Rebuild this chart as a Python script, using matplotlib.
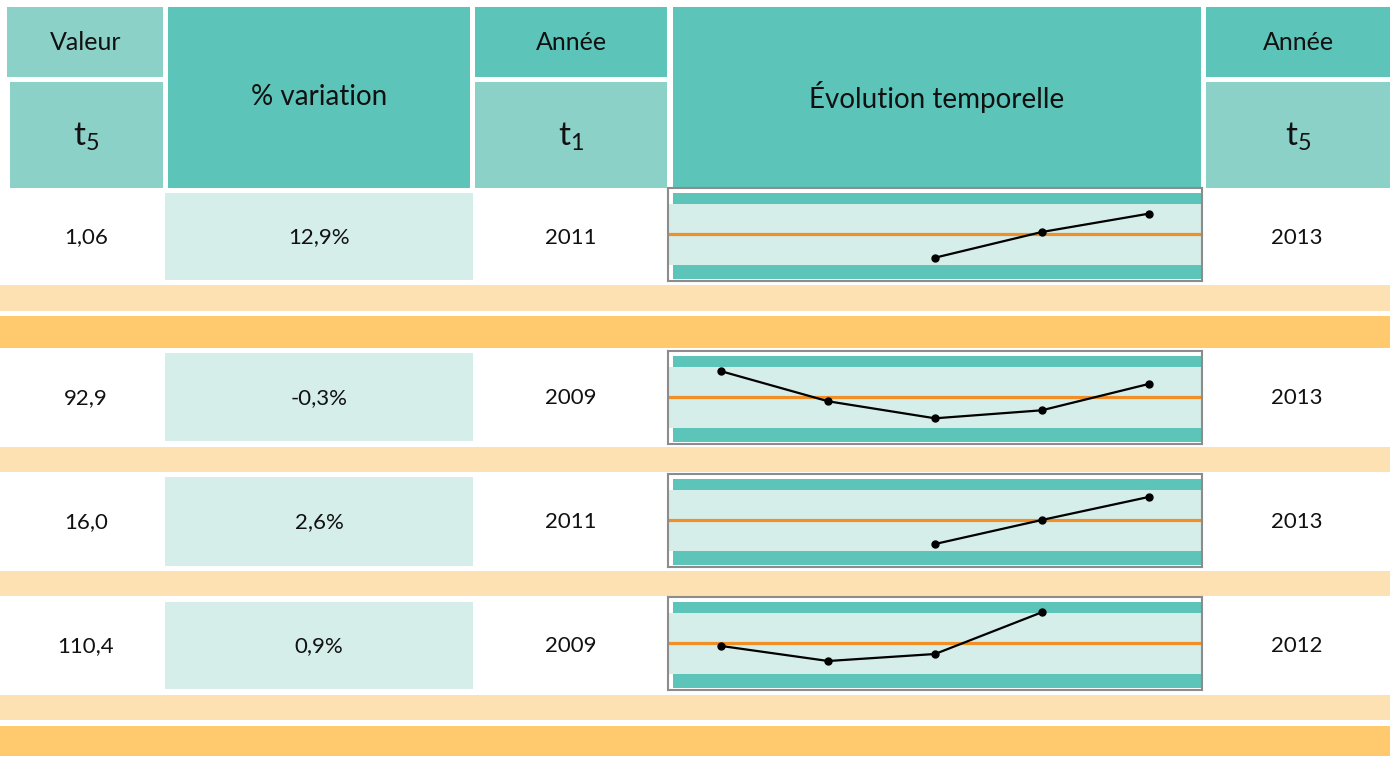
import matplotlib
matplotlib.use("Agg")
import matplotlib.pyplot as plt
from matplotlib.patches import Rectangle

plt.rcParams['font.family'] = ['Lato', 'DejaVu Sans']
plt.rcParams['mathtext.fontset'] = 'custom'
plt.rcParams['mathtext.rm'] = 'Lato'

# ---------------- data ----------------
valeurs = ["1,06", "92,9", "16,0", "110,4"]
variations = ["12,9%", "-0,3%", "2,6%", "0,9%"]
annee_debut = ["2011", "2009", "2011", "2009"]
annee_fin = ["2013", "2013", "2013", "2012"]
years = [2009, 2010, 2011, 2012, 2013]
# deviation from reference (orange line), per year; None = no data
serie_1 = [None, None, -23.7, 2.0, 20.3]
serie_2 = [25.7, -4.3, -21.3, -13.3, 13.0]
serie_3 = [None, None, -24.0, 0.0, 23.0]
serie_4 = [-3.0, -18.0, -11.0, 30.7, None]
series = [serie_1, serie_2, serie_3, serie_4]

# ---------------- style ----------------
TEAL = "#5CC4B8"
TEAL_MED = "#8BD1C8"
TEAL_LIGHT = "#D5EEEA"
PEACH = "#FEE1B2"
ORANGE = "#FFCA6E"
ORANGE_LINE = "#F28E26"
FRAME = "#8C8C8C"

W, H = 1393, 762
fig = plt.figure(figsize=(W / 100, H / 100), dpi=100)
ax = fig.add_axes([0, 0, 1, 1])
ax.set_xlim(0, W)
ax.set_ylim(H, 0)
ax.axis('off')


def rect(x0, y0, x1, y1, color):
    ax.add_patch(Rectangle((x0, y0), x1 - x0, y1 - y0, facecolor=color,
                           edgecolor='none', zorder=1))


def txt(x, y, s, size):
    ax.text(x, y, s, ha='center', va='center', fontsize=size, color='#111111', zorder=3)


# header
rect(7, 7, 163, 77, TEAL_MED)
rect(10, 82, 163, 188, TEAL_MED)
rect(168, 7, 470, 188, TEAL)
rect(475, 7, 667, 77, TEAL)
rect(475, 82, 667, 188, TEAL_MED)
rect(673, 7, 1201, 188, TEAL)
rect(1206, 7, 1390, 77, TEAL)
rect(1206, 82, 1390, 188, TEAL_MED)

txt(86, 43, "Valeur", 18)
txt(86, 137, r"$\mathregular{t_5}$", 24)
txt(319, 97, "% variation", 20)
txt(571, 43, "Année", 18)
txt(571, 137, r"$\mathregular{t_1}$", 24)
txt(937, 97, "Évolution temporelle", 20)
txt(1298, 43, "Année", 18)
txt(1298, 137, r"$\mathregular{t_5}$", 24)

# row geometry
row_boxes = [(193, 280), (353, 441), (477, 566), (602, 689)]
frame_tops = [188, 351, 474, 597]
peach_bands = [(285, 311), (447, 472), (571, 596), (695, 720)]
orange_bands = [(316, 348), (726, 756)]

for (y0, y1) in peach_bands:
    rect(0, y0, 1390, y1, PEACH)
for (y0, y1) in orange_bands:
    rect(0, y0, 1390, y1, ORANGE)

for i, (y0, y1) in enumerate(row_boxes):
    rect(165, y0, 473, y1, TEAL_LIGHT)
    yc = (y0 + y1) / 2 + 1
    txt(86, yc, valeurs[i], 16)
    txt(319, yc, variations[i], 16)
    txt(571, yc, annee_debut[i], 16)
    txt(1297, yc, annee_fin[i], 16)

# sparklines
FX0, FX1 = 668, 1202
FH = 93
for i, top in enumerate(frame_tops):
    sax = fig.add_axes([FX0 / W, 1 - (top + FH) / H, (FX1 - FX0) / W, FH / H])
    sax.set_xlim(years[0] - 0.5, years[-1] + 0.5)
    sax.set_ylim(-47, 46)
    sax.set_facecolor('white')
    inset = 5 / (FX1 - FX0)
    sax.axhspan(30, 41, xmin=inset, xmax=1, color=TEAL, lw=0, zorder=1)
    sax.axhspan(-31, 30, xmin=0, xmax=1, color=TEAL_LIGHT, lw=0, zorder=1)
    sax.axhspan(-45, -31, xmin=inset, xmax=1, color=TEAL, lw=0, zorder=1)
    sax.axhline(0, color=ORANGE_LINE, lw=2.3, zorder=2)
    xs = [y for y, v in zip(years, series[i]) if v is not None]
    vs = [v for v in series[i] if v is not None]
    sax.plot(xs, vs, color='black', lw=1.6, marker='o', markersize=5, zorder=3)
    sax.set_xticks([])
    sax.set_yticks([])
    for sp in sax.spines.values():
        sp.set_color(FRAME)
        sp.set_linewidth(1.5)

fig.savefig("out.png", dpi=100)
